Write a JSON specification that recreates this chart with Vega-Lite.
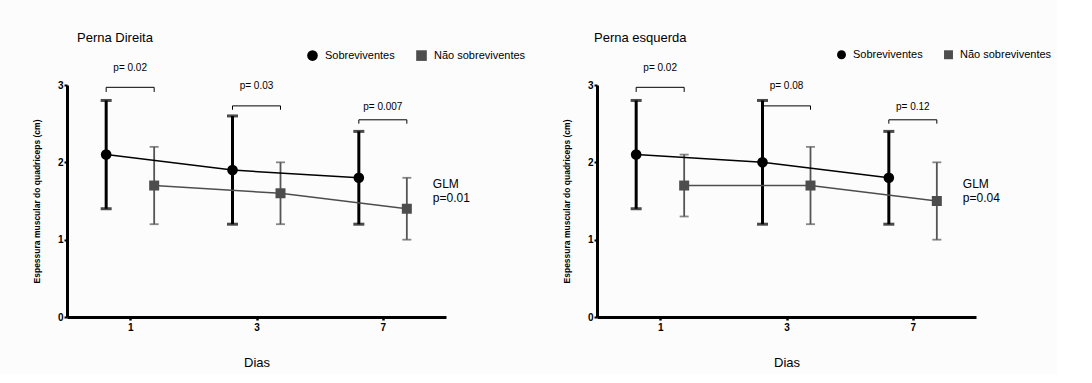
{
  "$schema": "https://vega.github.io/schema/vega-lite/v6.json",
  "background": "#fcfcfc",
  "padding": {"left": 32, "top": 32, "right": 5, "bottom": 5},
  "bounds": "flush",
  "spacing": 151,
  "config": {
    "font": "Liberation Sans",
    "view": {"stroke": null},
    "axisY": {"grid": false, "domainWidth": 3, "domainColor": "black", "tickColor": "black", "tickWidth": 2, "tickSize": 3, "labelFontWeight": "bold", "labelFontSize": 10, "labelColor": "black", "labelPadding": 1, "titleFontSize": 8.5, "titleFontWeight": "bold", "titleColor": "black", "titlePadding": 16},
    "axisX": {"labelAngle": 0, "grid": false, "domainWidth": 3, "domainColor": "black", "tickColor": "black", "tickWidth": 2.5, "tickSize": 3, "labelFontWeight": "bold", "labelFontSize": 10, "labelColor": "black", "labelPadding": 2, "titleFontSize": 13, "titleFontWeight": "normal", "titleColor": "black", "titlePadding": 24},
    "legend": {"labelFontSize": 11, "labelColor": "black", "labelFont": "Liberation Sans"}
  },
  "datasets": {
    "direita": [
      {"dia": "1", "grupo": "Sobreviventes", "media": 2.1, "li": 1.4, "ls": 2.8},
      {"dia": "3", "grupo": "Sobreviventes", "media": 1.9, "li": 1.2, "ls": 2.6},
      {"dia": "7", "grupo": "Sobreviventes", "media": 1.8, "li": 1.2, "ls": 2.4},
      {"dia": "1", "grupo": "Não sobreviventes", "media": 1.7, "li": 1.2, "ls": 2.2},
      {"dia": "3", "grupo": "Não sobreviventes", "media": 1.6, "li": 1.2, "ls": 2.0},
      {"dia": "7", "grupo": "Não sobreviventes", "media": 1.4, "li": 1.0, "ls": 1.8}
    ],
    "esquerda": [
      {"dia": "1", "grupo": "Sobreviventes", "media": 2.1, "li": 1.4, "ls": 2.8},
      {"dia": "3", "grupo": "Sobreviventes", "media": 2.0, "li": 1.2, "ls": 2.8},
      {"dia": "7", "grupo": "Sobreviventes", "media": 1.8, "li": 1.2, "ls": 2.4},
      {"dia": "1", "grupo": "Não sobreviventes", "media": 1.7, "li": 1.3, "ls": 2.1},
      {"dia": "3", "grupo": "Não sobreviventes", "media": 1.7, "li": 1.2, "ls": 2.2},
      {"dia": "7", "grupo": "Não sobreviventes", "media": 1.5, "li": 1.0, "ls": 2.0}
    ],
    "colchetes": [
      {"dia": "1", "grupo": "Sobreviventes", "y": 2.91, "ordem": 1},
      {"dia": "1", "grupo": "Sobreviventes", "y": 2.97, "ordem": 2},
      {"dia": "1", "grupo": "Não sobreviventes", "y": 2.97, "ordem": 3},
      {"dia": "1", "grupo": "Não sobreviventes", "y": 2.91, "ordem": 4},
      {"dia": "3", "grupo": "Sobreviventes", "y": 2.68, "ordem": 1},
      {"dia": "3", "grupo": "Sobreviventes", "y": 2.73, "ordem": 2},
      {"dia": "3", "grupo": "Não sobreviventes", "y": 2.73, "ordem": 3},
      {"dia": "3", "grupo": "Não sobreviventes", "y": 2.68, "ordem": 4},
      {"dia": "7", "grupo": "Sobreviventes", "y": 2.5, "ordem": 1},
      {"dia": "7", "grupo": "Sobreviventes", "y": 2.55, "ordem": 2},
      {"dia": "7", "grupo": "Não sobreviventes", "y": 2.55, "ordem": 3},
      {"dia": "7", "grupo": "Não sobreviventes", "y": 2.5, "ordem": 4}
    ],
    "p_direita": [
      {"dia": "1", "y": 3.22, "texto": "p= 0.02"},
      {"dia": "3", "y": 2.99, "texto": "p= 0.03"},
      {"dia": "7", "y": 2.72, "texto": "p= 0.007"},
      {"dia": "7", "y": 1.72, "texto": "GLM", "glm": true},
      {"dia": "7", "y": 1.54, "texto": "p=0.01", "glm": true}
    ],
    "p_esquerda": [
      {"dia": "1", "y": 3.22, "texto": "p= 0.02"},
      {"dia": "3", "y": 2.99, "texto": "p= 0.08"},
      {"dia": "7", "y": 2.72, "texto": "p= 0.12"},
      {"dia": "7", "y": 1.72, "texto": "GLM", "glm": true},
      {"dia": "7", "y": 1.54, "texto": "p=0.04", "glm": true}
    ]
  },
  "resolve": {"legend": {"color": "independent", "shape": "independent"}},
  "hconcat": [
    {
      "width": 379,
      "height": 232,
      "title": {"text": "Perna Direita", "anchor": "start", "frame": "group", "fontSize": 13, "fontWeight": "normal", "color": "black", "dx": 10, "offset": 4},
      "encoding": {
        "x": {"field": "dia", "type": "ordinal", "sort": ["1", "3", "7"], "scale": {"type": "point", "padding": 0.5}, "title": "Dias"},
        "y": {"type": "quantitative", "scale": {"domain": [0, 3]}, "axis": {"values": [0, 1, 2, 3], "format": "d"}, "title": "Espessura muscular do quadriceps (cm)"}
      },
      "layer": [
        {
          "data": {"name": "colchetes"},
          "mark": {"type": "line", "color": "black", "strokeWidth": 1},
          "encoding": {
            "y": {"field": "y", "type": "quantitative"},
            "xOffset": {"field": "grupo", "type": "nominal", "sort": ["Sobreviventes", "Não sobreviventes"], "scale": {"range": [-48, 48]}},
            "detail": {"field": "dia"},
            "order": {"field": "ordem"}
          }
        },
        {
          "data": {"name": "p_direita"},
          "transform": [{"filter": "!datum.glm"}],
          "mark": {"type": "text", "fontSize": 10, "color": "black", "baseline": "middle"},
          "encoding": {"y": {"field": "y", "type": "quantitative"}, "text": {"field": "texto"}}
        },
        {
          "data": {"name": "p_direita"},
          "transform": [{"filter": "datum.glm"}],
          "mark": {"type": "text", "fontSize": 12, "color": "black", "baseline": "middle", "align": "left", "dx": 50},
          "encoding": {"y": {"field": "y", "type": "quantitative"}, "text": {"field": "texto"}}
        },
        {
          "data": {"name": "direita"},
          "transform": [{"filter": "datum.grupo == 'Sobreviventes'"}],
          "layer": [
            {"mark": {"type": "rule", "color": "black", "strokeWidth": 3}, "encoding": {"y": {"field": "li", "type": "quantitative"}, "y2": {"field": "ls"}}},
            {"mark": {"type": "tick", "color": "black", "thickness": 3, "size": 11}, "encoding": {"y": {"field": "li", "type": "quantitative"}}},
            {"mark": {"type": "tick", "color": "black", "thickness": 3, "size": 11}, "encoding": {"y": {"field": "ls", "type": "quantitative"}}}
          ],
          "encoding": {"xOffset": {"field": "grupo", "type": "nominal", "sort": ["Sobreviventes", "Não sobreviventes"], "scale": {"domain": ["Sobreviventes", "Não sobreviventes"], "range": [-48, 48]}}}
        },
        {
          "data": {"name": "direita"},
          "transform": [{"filter": "datum.grupo != 'Sobreviventes'"}],
          "layer": [
            {"mark": {"type": "rule", "color": "#555555", "strokeWidth": 1.8}, "encoding": {"y": {"field": "li", "type": "quantitative"}, "y2": {"field": "ls"}}},
            {"mark": {"type": "tick", "color": "#555555", "thickness": 1.8, "size": 9}, "encoding": {"y": {"field": "li", "type": "quantitative"}}},
            {"mark": {"type": "tick", "color": "#555555", "thickness": 1.8, "size": 9}, "encoding": {"y": {"field": "ls", "type": "quantitative"}}}
          ],
          "encoding": {"xOffset": {"field": "grupo", "type": "nominal", "sort": ["Sobreviventes", "Não sobreviventes"], "scale": {"domain": ["Sobreviventes", "Não sobreviventes"], "range": [-48, 48]}}}
        },
        {
          "data": {"name": "direita"},
          "mark": {"type": "line", "strokeWidth": 1.5},
          "encoding": {
            "y": {"field": "media", "type": "quantitative"},
            "xOffset": {"field": "grupo", "type": "nominal", "sort": ["Sobreviventes", "Não sobreviventes"], "scale": {"domain": ["Sobreviventes", "Não sobreviventes"], "range": [-48, 48]}},
            "stroke": {"field": "grupo", "type": "nominal", "scale": {"domain": ["Sobreviventes", "Não sobreviventes"], "range": ["#000000", "#4d4d4d"]}, "legend": null}
          }
        },
        {
          "data": {"name": "direita"},
          "mark": {"type": "point", "filled": true, "opacity": 1},
          "encoding": {
            "y": {"field": "media", "type": "quantitative"},
            "xOffset": {"field": "grupo", "type": "nominal", "sort": ["Sobreviventes", "Não sobreviventes"], "scale": {"domain": ["Sobreviventes", "Não sobreviventes"], "range": [-48, 48]}},
            "color": {"field": "grupo", "type": "nominal", "sort": ["Sobreviventes", "Não sobreviventes"], "scale": {"domain": ["Sobreviventes", "Não sobreviventes"], "range": ["#000000", "#4d4d4d"]}, "title": null,
              "legend": {"orient": "none", "legendX": 239, "legendY": -36, "direction": "horizontal", "symbolSize": 113, "columnPadding": 20, "labelOffset": 6}},
            "shape": {"field": "grupo", "type": "nominal", "sort": ["Sobreviventes", "Não sobreviventes"], "scale": {"domain": ["Sobreviventes", "Não sobreviventes"], "range": ["circle", "square"]}, "title": null},
            "size": {"field": "grupo", "type": "nominal", "scale": {"domain": ["Sobreviventes", "Não sobreviventes"], "range": [113, 100]}, "legend": null}
          }
        }
      ]
    },
    {
      "width": 379,
      "height": 232,
      "title": {"text": "Perna esquerda", "anchor": "start", "frame": "group", "fontSize": 13, "fontWeight": "normal", "color": "black", "dx": -3, "offset": 4},
      "encoding": {
        "x": {"field": "dia", "type": "ordinal", "sort": ["1", "3", "7"], "scale": {"type": "point", "padding": 0.5}, "title": "Dias"},
        "y": {"type": "quantitative", "scale": {"domain": [0, 3]}, "axis": {"values": [0, 1, 2, 3], "format": "d"}, "title": "Espessura muscular do quadriceps (cm)"}
      },
      "layer": [
        {
          "data": {"name": "colchetes"},
          "mark": {"type": "line", "color": "black", "strokeWidth": 1},
          "encoding": {
            "y": {"field": "y", "type": "quantitative"},
            "xOffset": {"field": "grupo", "type": "nominal", "sort": ["Sobreviventes", "Não sobreviventes"], "scale": {"range": [-48, 48]}},
            "detail": {"field": "dia"},
            "order": {"field": "ordem"}
          }
        },
        {
          "data": {"name": "p_esquerda"},
          "transform": [{"filter": "!datum.glm"}],
          "mark": {"type": "text", "fontSize": 10, "color": "black", "baseline": "middle"},
          "encoding": {"y": {"field": "y", "type": "quantitative"}, "text": {"field": "texto"}}
        },
        {
          "data": {"name": "p_esquerda"},
          "transform": [{"filter": "datum.glm"}],
          "mark": {"type": "text", "fontSize": 12, "color": "black", "baseline": "middle", "align": "left", "dx": 50},
          "encoding": {"y": {"field": "y", "type": "quantitative"}, "text": {"field": "texto"}}
        },
        {
          "data": {"name": "esquerda"},
          "transform": [{"filter": "datum.grupo == 'Sobreviventes'"}],
          "layer": [
            {"mark": {"type": "rule", "color": "black", "strokeWidth": 3}, "encoding": {"y": {"field": "li", "type": "quantitative"}, "y2": {"field": "ls"}}},
            {"mark": {"type": "tick", "color": "black", "thickness": 3, "size": 11}, "encoding": {"y": {"field": "li", "type": "quantitative"}}},
            {"mark": {"type": "tick", "color": "black", "thickness": 3, "size": 11}, "encoding": {"y": {"field": "ls", "type": "quantitative"}}}
          ],
          "encoding": {"xOffset": {"field": "grupo", "type": "nominal", "sort": ["Sobreviventes", "Não sobreviventes"], "scale": {"domain": ["Sobreviventes", "Não sobreviventes"], "range": [-48, 48]}}}
        },
        {
          "data": {"name": "esquerda"},
          "transform": [{"filter": "datum.grupo != 'Sobreviventes'"}],
          "layer": [
            {"mark": {"type": "rule", "color": "#555555", "strokeWidth": 1.8}, "encoding": {"y": {"field": "li", "type": "quantitative"}, "y2": {"field": "ls"}}},
            {"mark": {"type": "tick", "color": "#555555", "thickness": 1.8, "size": 9}, "encoding": {"y": {"field": "li", "type": "quantitative"}}},
            {"mark": {"type": "tick", "color": "#555555", "thickness": 1.8, "size": 9}, "encoding": {"y": {"field": "ls", "type": "quantitative"}}}
          ],
          "encoding": {"xOffset": {"field": "grupo", "type": "nominal", "sort": ["Sobreviventes", "Não sobreviventes"], "scale": {"domain": ["Sobreviventes", "Não sobreviventes"], "range": [-48, 48]}}}
        },
        {
          "data": {"name": "esquerda"},
          "mark": {"type": "line", "strokeWidth": 1.5},
          "encoding": {
            "y": {"field": "media", "type": "quantitative"},
            "xOffset": {"field": "grupo", "type": "nominal", "sort": ["Sobreviventes", "Não sobreviventes"], "scale": {"domain": ["Sobreviventes", "Não sobreviventes"], "range": [-48, 48]}},
            "stroke": {"field": "grupo", "type": "nominal", "scale": {"domain": ["Sobreviventes", "Não sobreviventes"], "range": ["#000000", "#4d4d4d"]}, "legend": null}
          }
        },
        {
          "data": {"name": "esquerda"},
          "mark": {"type": "point", "filled": true, "opacity": 1},
          "encoding": {
            "y": {"field": "media", "type": "quantitative"},
            "xOffset": {"field": "grupo", "type": "nominal", "sort": ["Sobreviventes", "Não sobreviventes"], "scale": {"domain": ["Sobreviventes", "Não sobreviventes"], "range": [-48, 48]}},
            "color": {"field": "grupo", "type": "nominal", "sort": ["Sobreviventes", "Não sobreviventes"], "scale": {"domain": ["Sobreviventes", "Não sobreviventes"], "range": ["#000000", "#4d4d4d"]}, "title": null,
              "legend": {"orient": "none", "legendX": 239, "legendY": -36, "direction": "horizontal", "symbolSize": 80, "columnPadding": 20, "labelOffset": 6}},
            "shape": {"field": "grupo", "type": "nominal", "sort": ["Sobreviventes", "Não sobreviventes"], "scale": {"domain": ["Sobreviventes", "Não sobreviventes"], "range": ["circle", "square"]}, "title": null},
            "size": {"field": "grupo", "type": "nominal", "scale": {"domain": ["Sobreviventes", "Não sobreviventes"], "range": [72, 68]}, "legend": null}
          }
        }
      ]
    }
  ]
}
